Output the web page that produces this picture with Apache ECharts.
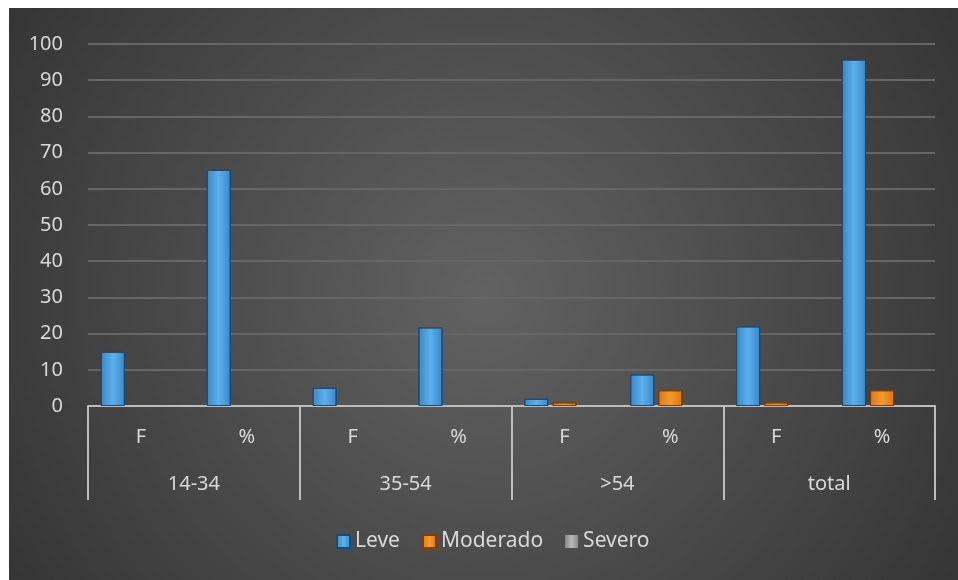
<!DOCTYPE html>
<html>
<head>
<meta charset="utf-8">
<script src="https://cdn.jsdelivr.net/npm/echarts@6/dist/echarts.min.js"></script>
<style>
html,body{margin:0;padding:0;background:#ffffff;}
#chart{position:absolute;left:9px;top:8px;width:949px;height:572px;}
</style>
</head>
<body>
<div id="chart"></div>
<script>
const subCategories = ['F', '%', 'F', '%', 'F', '%', 'F', '%'];
const groups = ['14-34', '35-54', '>54', 'total'];
const leve = [15, 65.2, 5, 21.7, 2, 8.7, 22, 95.7];
const moderado = [0, 0, 0, 0, 1, 4.35, 1, 4.35];
const severo = [0, 0, 0, 0, 0, 0, 0, 0];
const yTicks = [0, 10, 20, 30, 40, 50, 60, 70, 80, 90, 100];

const chart = echarts.init(document.getElementById('chart'));
const FONT = 'Noto Sans';
const txt = '#d9d9d9';

function hgrad(edge, mid) {
  return new echarts.graphic.LinearGradient(0, 0, 1, 0, [
    {offset: 0, color: edge}, {offset: 0.5, color: mid}, {offset: 1, color: edge}
  ]);
}
function hideZero(arr) {
  return arr.map(v => v === 0 ? {value: v, itemStyle: {borderWidth: 0, opacity: 0}} : v);
}

chart.setOption({
  backgroundColor: {
    type: 'radial', x: 0.5, y: 0.5, r: 1,
    colorStops: [{offset: 0, color: '#626262'}, {offset: 1, color: '#343434'}]
  },
  textStyle: {fontFamily: FONT},
  grid: {left: 79, right: 23, top: 36, bottom: 174, containLabel: false},
  legend: {
    data: ['Leve', 'Moderado', 'Severo'],
    bottom: 23, left: 322,
    itemWidth: 13, itemHeight: 13, itemGap: 22,
    textStyle: {color: txt, fontSize: 21, fontFamily: FONT},
    icon: 'rect'
  },
  xAxis: [
    {
      type: 'category', data: subCategories, position: 'bottom',
      axisLine: {lineStyle: {color: '#bdbdbd', width: 2}},
      axisTick: {show: false},
      axisLabel: {color: txt, fontSize: 20, margin: 21, fontFamily: FONT},
      splitLine: {show: false}
    },
    {
      type: 'category', data: groups, position: 'bottom', offset: 0,
      axisLine: {show: false},
      axisTick: {show: true, length: 94, lineStyle: {color: '#bdbdbd', width: 2}},
      axisLabel: {color: txt, fontSize: 20, margin: 68, fontFamily: FONT},
      splitLine: {show: false}
    }
  ],
  yAxis: {
    type: 'value', min: yTicks[0], max: yTicks[yTicks.length - 1], interval: 10,
    axisLine: {show: false}, axisTick: {show: false},
    axisLabel: {color: txt, fontSize: 20, margin: 25, fontFamily: FONT},
    splitLine: {lineStyle: {color: '#666666', width: 2}}
  },
  series: [
    {
      name: 'Leve', type: 'bar', data: hideZero(leve), barWidth: 24, barGap: '17%',
      itemStyle: {color: hgrad('#3b87c6', '#5bb0ec'), borderColor: '#1e4a70', borderWidth: 1}
    },
    {
      name: 'Moderado', type: 'bar', data: hideZero(moderado), barWidth: 24, barGap: '17%',
      itemStyle: {color: hgrad('#d8761a', '#f79a2a'), borderColor: '#7a3f0a', borderWidth: 1}
    },
    {
      name: 'Severo', type: 'bar', data: hideZero(severo), barWidth: 24, barGap: '17%',
      itemStyle: {color: hgrad('#8a8a8a', '#b8b8b8'), borderWidth: 0}
    }
  ]
});
</script>
</body>
</html>
